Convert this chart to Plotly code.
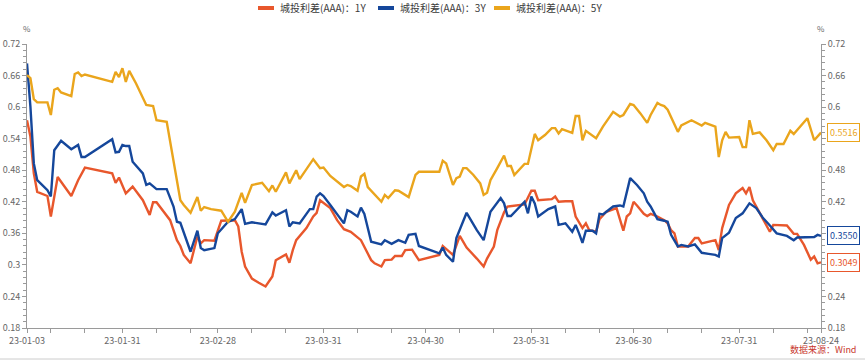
import plotly.graph_objects as go

YEAR = "2023-"

# ---------------- data ----------------
dates_1y = ["01-03","01-04","01-05","01-06","01-09","01-10","01-12","01-16","01-18","01-20",
            "01-28","01-29","01-30","02-01","02-03","02-06","02-08","02-09","02-10","02-14",
            "02-16","02-17","02-18","02-20","02-22","02-23","02-24","02-27","03-01","03-03",
            "03-05","03-06","03-07","03-08","03-10","03-12","03-14","03-16","03-17","03-20",
            "03-21","03-22","03-23","03-26","03-28","03-29","03-30","04-02","04-04","04-06",
            "04-08","04-11","04-14","04-15","04-17","04-18","04-20","04-21","04-23","04-24",
            "04-26","04-28","05-04","05-05","05-08","05-10","05-12","05-15","05-17","05-18",
            "05-20","05-21","05-23","05-24","05-27","05-29","05-31","06-01","06-02","06-06",
            "06-07","06-08","06-10","06-12","06-13","06-15","06-16","06-17","06-19","06-20",
            "06-22","06-25","06-27","06-28","06-29","06-30","07-01","07-03","07-04","07-05",
            "07-07","07-09","07-10","07-11","07-12","07-13","07-16","07-18","07-19","07-20",
            "07-24","07-25","07-26","07-28","07-30","08-01","08-02","08-03","08-04","08-05",
            "08-06","08-07","08-09","08-10","08-14","08-16","08-17","08-19","08-21","08-22",
            "08-23","08-24"]
spread_1y = [0.575,0.544,0.474,0.439,0.431,0.392,0.467,0.431,0.461,0.485,
             0.474,0.456,0.466,0.436,0.449,0.423,0.395,0.419,0.419,0.385,
             0.347,0.336,0.319,0.303,0.354,0.341,0.347,0.346,0.384,0.385,
             0.385,0.373,0.325,0.297,0.274,0.266,0.259,0.278,0.309,0.320,
             0.304,0.328,0.347,0.370,0.392,0.399,0.423,0.408,0.385,0.368,
             0.363,0.347,0.309,0.303,0.297,0.309,0.310,0.317,0.317,0.328,
             0.329,0.309,0.319,0.336,0.319,0.355,0.333,0.312,0.297,0.312,
             0.335,0.366,0.400,0.411,0.414,0.415,0.441,0.441,0.423,0.425,
             0.430,0.420,0.421,0.421,0.392,0.370,0.379,0.366,0.363,0.387,
             0.401,0.408,0.365,0.392,0.398,0.420,0.413,0.397,0.393,0.397,
             0.392,0.385,0.379,0.366,0.360,0.335,0.335,0.351,0.351,0.341,
             0.347,0.328,0.370,0.414,0.436,0.446,0.436,0.448,0.423,0.411,
             0.398,0.385,0.363,0.376,0.375,0.359,0.359,0.338,0.310,0.316,
             0.303,0.3049]

dates_3y = ["01-03","01-04","01-05","01-06","01-09","01-10","01-11","01-13","01-16","01-18",
            "01-19","01-20","01-28","01-29","01-30","01-31","02-01","02-02","02-03","02-06",
            "02-07","02-08","02-10","02-13","02-15","02-16","02-17","02-18","02-20","02-22",
            "02-23","02-24","02-27","02-28","03-03","03-05","03-07","03-08","03-10","03-14",
            "03-16","03-17","03-20","03-21","03-22","03-24","03-27","03-28","03-29","03-30",
            "03-31","04-02","04-06","04-07","04-08","04-10","04-11","04-12","04-13","04-14",
            "04-17","04-18","04-20","04-22","04-24","04-25","04-27","04-28","05-04","05-05",
            "05-06","05-08","05-09","05-10","05-12","05-15","05-17","05-19","05-22","05-23",
            "05-24","05-25","05-27","05-29","05-30","05-31","06-01","06-02","06-05","06-07",
            "06-08","06-10","06-12","06-13","06-14","06-15","06-16","06-18","06-19","06-20",
            "06-21","06-24","06-26","06-27","06-29","07-01","07-03","07-04","07-05","07-07",
            "07-09","07-10","07-11","07-13","07-14","07-16","07-18","07-20","07-22","07-24",
            "07-25","07-26","07-28","07-30","08-01","08-03","08-05","08-07","08-09","08-11",
            "08-14","08-16","08-17","08-20","08-22","08-23","08-24"]
spread_3y = [0.683,0.601,0.493,0.461,0.442,0.430,0.518,0.536,0.520,0.528,
             0.505,0.505,0.539,0.514,0.515,0.528,0.526,0.526,0.496,0.474,
             0.452,0.455,0.444,0.444,0.411,0.382,0.380,0.363,0.325,0.365,
             0.332,0.328,0.332,0.360,0.382,0.387,0.406,0.378,0.381,0.377,
             0.400,0.394,0.404,0.373,0.381,0.379,0.406,0.406,0.430,0.436,
             0.431,0.414,0.379,0.404,0.401,0.392,0.409,0.397,0.373,0.344,
             0.339,0.347,0.340,0.347,0.342,0.357,0.359,0.336,0.322,0.333,
             0.319,0.306,0.351,0.366,0.399,0.366,0.347,0.401,0.427,0.417,
             0.393,0.393,0.406,0.420,0.398,0.430,0.417,0.392,0.406,0.411,
             0.376,0.379,0.363,0.376,0.360,0.342,0.365,0.365,0.360,0.397,
             0.396,0.411,0.413,0.411,0.465,0.452,0.436,0.420,0.411,0.387,
             0.384,0.382,0.357,0.335,0.338,0.335,0.339,0.323,0.321,0.319,
             0.316,0.351,0.361,0.389,0.398,0.417,0.408,0.389,0.375,0.360,
             0.355,0.347,0.352,0.352,0.353,0.357,0.3550]

dates_5y = ["01-03","01-04","01-05","01-06","01-09","01-10","01-11","01-12","01-13","01-16",
            "01-17","01-18","01-19","01-20","01-28","01-29","01-30","01-31","02-01","02-02",
            "02-04","02-07","02-09","02-10","02-13","02-17","02-18","02-20","02-22","02-23",
            "02-24","02-26","03-01","03-03","03-05","03-07","03-08","03-10","03-13","03-15",
            "03-16","03-17","03-20","03-21","03-23","03-24","03-28","03-30","03-31","04-02",
            "04-06","04-07","04-08","04-10","04-11","04-12","04-13","04-15","04-17","04-18",
            "04-19","04-21","04-22","04-25","04-27","04-28","05-04","05-05","05-06","05-08",
            "05-09","05-10","05-11","05-12","05-14","05-16","05-17","05-18","05-19","05-21",
            "05-23","05-24","05-25","05-26","05-29","05-30","06-01","06-02","06-04","06-06",
            "06-07","06-08","06-09","06-12","06-13","06-14","06-15","06-16","06-19","06-21",
            "06-24","06-26","06-27","06-29","06-30","07-02","07-04","07-05","07-07","07-08",
            "07-09","07-10","07-13","07-14","07-17","07-20","07-21","07-24","07-25","07-26",
            "07-27","07-28","07-31","08-01","08-02","08-03","08-04","08-06","08-08","08-10",
            "08-11","08-13","08-15","08-16","08-18","08-20","08-22","08-23","08-24"]
spread_5y = [0.661,0.655,0.615,0.609,0.609,0.585,0.633,0.636,0.628,0.621,
             0.663,0.666,0.659,0.662,0.648,0.667,0.657,0.674,0.648,0.669,
             0.645,0.604,0.602,0.575,0.572,0.423,0.414,0.399,0.429,0.403,
             0.410,0.406,0.403,0.382,0.401,0.437,0.418,0.452,0.456,0.440,
             0.451,0.439,0.476,0.455,0.480,0.463,0.501,0.484,0.485,0.469,
             0.448,0.452,0.450,0.441,0.468,0.473,0.448,0.433,0.420,0.433,
             0.427,0.442,0.441,0.429,0.471,0.477,0.477,0.498,0.493,0.452,
             0.465,0.468,0.484,0.484,0.471,0.455,0.433,0.437,0.461,0.484,
             0.508,0.488,0.488,0.471,0.492,0.492,0.549,0.537,0.547,0.560,
             0.560,0.550,0.558,0.551,0.583,0.583,0.537,0.555,0.541,0.563,
             0.591,0.582,0.585,0.606,0.604,0.588,0.570,0.585,0.608,0.604,
             0.602,0.595,0.553,0.565,0.575,0.565,0.570,0.563,0.505,0.537,
             0.553,0.542,0.543,0.524,0.524,0.575,0.549,0.552,0.537,0.518,
             0.530,0.530,0.555,0.549,0.563,0.579,0.537,0.545,0.5516]

series_names = ["城投利差(AAA)：1Y", "城投利差(AAA)：3Y", "城投利差(AAA)：5Y"]
series_colors = ["#E8572C", "#15479B", "#EAA51C"]

x_major_ticks = ["01-03", "01-31", "02-28", "03-31", "04-30", "05-31", "06-30", "07-31", "08-24"]
x_minor_ticks = ["01-10", "01-20", "02-10", "02-20", "03-10", "03-20", "04-10", "04-20",
                 "05-10", "05-20", "06-10", "06-20", "07-10", "07-20", "08-10", "08-20"]
y_ticks = [0.18, 0.24, 0.30, 0.36, 0.42, 0.48, 0.54, 0.60, 0.66, 0.72]
y_tick_text = ["0.18", "0.24", "0.3", "0.36", "0.42", "0.48", "0.54", "0.6", "0.66", "0.72"]
source_text = "数据来源：Wind"

# ---------------- figure ----------------
W, H = 865, 360
ML, MR, MT, MB = 27, 44, 44, 32
PW, PH = W - ML - MR, H - MT - MB
FONT = "Noto Sans CJK SC, Microsoft YaHei, sans-serif"
AXIS_COLOR = "#9a9a9a"
TICK_FONT = dict(family=FONT, size=9, color="#666666")


def px_x(p):   # pixel column -> paper x
    return (p - ML) / PW


def px_y(p):   # pixel row -> paper y
    return 1 - (p - MT) / PH


fig = go.Figure()
all_dates = [dates_1y, dates_3y, dates_5y]
all_vals = [spread_1y, spread_3y, spread_5y]
for name, color, ds, vs in zip(series_names, series_colors, all_dates, all_vals):
    fig.add_trace(go.Scatter(
        x=[YEAR + d for d in ds], y=vs, name=name, mode="lines",
        line=dict(color=color, width=2.4), hoverinfo="x+y",
    ))

# invisible trace to activate the right-hand axis
fig.add_trace(go.Scatter(x=[YEAR + dates_1y[0]], y=[spread_1y[0]], yaxis="y2",
                         mode="lines", showlegend=False, hoverinfo="skip",
                         line=dict(color="rgba(0,0,0,0)")))

yaxis_common = dict(
    range=[0.18, 0.72], tickmode="array", tickvals=y_ticks, ticktext=y_tick_text,
    showgrid=False, zeroline=False, showline=True, linecolor=AXIS_COLOR, linewidth=1,
    ticks="outside", ticklen=4, tickcolor=AXIS_COLOR, tickfont=TICK_FONT,
    minor=dict(dtick=0.012, tick0=0.18, ticks="outside", ticklen=3, tickcolor=AXIS_COLOR, showgrid=False),
    fixedrange=True, automargin=False,
)

fig.update_layout(
    width=W, height=H,
    margin=dict(l=ML, r=MR, t=MT, b=MB, autoexpand=False),
    paper_bgcolor="white", plot_bgcolor="white",
    font=dict(family=FONT, size=10, color="#444444"),
    showlegend=False,
    xaxis=dict(
        type="date", range=[YEAR + x_major_ticks[0], YEAR + x_major_ticks[-1]],
        tickmode="array", tickvals=[YEAR + d for d in x_major_ticks],
        ticktext=["23-" + d for d in x_major_ticks],
        showgrid=False, zeroline=False, showline=True, linecolor=AXIS_COLOR, linewidth=1,
        ticks="outside", ticklen=4, tickcolor=AXIS_COLOR, tickfont=TICK_FONT,
        minor=dict(tickmode="array", tickvals=[YEAR + d for d in x_minor_ticks],
                   ticks="outside", ticklen=4, tickcolor=AXIS_COLOR, showgrid=False),
        fixedrange=True, automargin=False,
    ),
    yaxis=dict(side="left", **yaxis_common),
    yaxis2=dict(side="right", overlaying="y", **yaxis_common),
)

# legend drawn by hand (short thick swatch + label), centred at the top
legend_swatch_px = [258, 378, 494]
for name, color, sx in zip(series_names, series_colors, legend_swatch_px):
    fig.add_shape(type="line", xref="paper", yref="paper",
                  x0=px_x(sx), x1=px_x(sx + 16), y0=px_y(8), y1=px_y(8),
                  line=dict(color=color, width=4))
    fig.add_annotation(text=name, xref="paper", yref="paper", x=px_x(sx + 20), y=px_y(8),
                       xanchor="left", yanchor="middle", showarrow=False,
                       font=dict(family=FONT, size=10, color="#3a3a3a"))

# "%" unit labels
for xp in (0, 1):
    fig.add_annotation(text="%", xref="paper", yref="paper", x=xp, y=px_y(28),
                       xanchor="center", yanchor="middle", showarrow=False,
                       font=dict(family=FONT, size=8, color="#666666"))

# last-value tags on the right
for color, vs in zip(series_colors, all_vals):
    fig.add_annotation(text=f"{vs[-1]:.4f}", xref="paper", yref="y", x=1, y=vs[-1],
                       xanchor="left", xshift=6, showarrow=False,
                       font=dict(family=FONT, size=9, color=color),
                       bordercolor=color, borderwidth=1, borderpad=2, bgcolor="white")

# source
fig.add_annotation(text=source_text, xref="paper", yref="paper", x=px_x(858), y=px_y(350),
                   xanchor="right", yanchor="middle", showarrow=False,
                   font=dict(family=FONT, size=9, color="#C8372D"))

# thin bottom border
fig.add_shape(type="line", xref="paper", yref="paper", x0=px_x(0), x1=px_x(W), y0=px_y(359), y1=px_y(359),
              line=dict(color="#cccccc", width=1))

fig.write_html("out.html", config={"displayModeBar": False},
               post_script="document.body.style.margin='0px';")
